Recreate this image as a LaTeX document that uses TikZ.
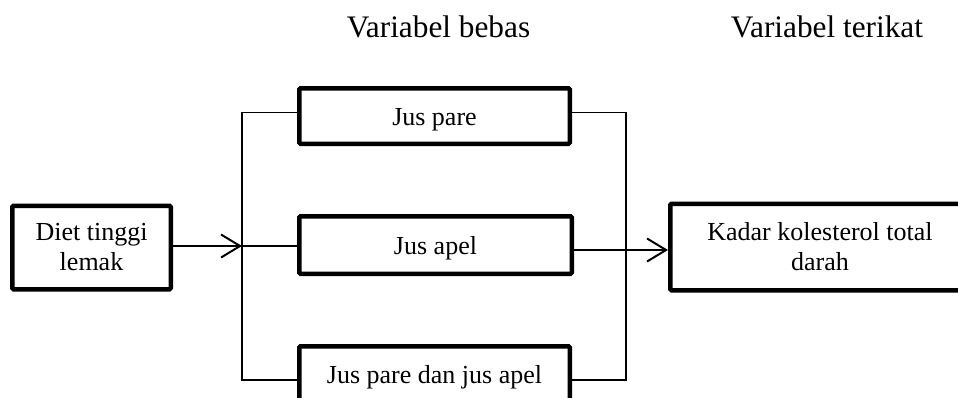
\documentclass[tikz,border=0pt]{standalone}
\usepackage{fontspec}
\setmainfont{Liberation Serif}
\usetikzlibrary{arrows.meta}

\tikzset{
  box/.style={draw, line width=4.5pt, rounded corners=1.2pt, inner sep=0pt,
    align=center, font=\fontsize{26}{30}\selectfont},
  onebox/.style={box, text height=18pt, text depth=0pt},
  title/.style={anchor=base, inner sep=0pt, font=\fontsize{31.3}{37}\selectfont},
  link/.style={line width=1.4pt},
  arr/.style={line width=2pt, -{Straight Barb[length=19pt,width=23pt]}},
}

\begin{document}
\begin{tikzpicture}[x=1pt, y=-1pt]
  \useasboundingbox (0,0) rectangle (958,397);
  \begin{scope}
    \clip (0,0) rectangle (958,397);

    % column headings
    \node[title] (hbebas)   at (438.5,37) {Variabel bebas};
    \node[title] (hterikat) at (827,37)   {Variabel terikat};

    % boxes
    \node[box, minimum width=158.5pt, minimum height=83.5pt] (diet) at (91.5,247.5)
      {Diet tinggi\\lemak};
    \node[onebox, minimum width=270.5pt, minimum height=55.5pt] (pare) at (434.5,116)
      {Jus pare};
    \node[onebox, minimum width=272.5pt, minimum height=57.5pt] (apel) at (435.5,245)
      {Jus apel};
    \node[onebox, minimum width=270.5pt, minimum height=55.5pt] (both) at (434.5,374)
      {Jus pare dan jus apel};
    \node[box, minimum width=299.5pt, minimum height=86.5pt] (kadar) at (820,247)
      {Kadar kolesterol total\\darah};

    % branching points
    \coordinate (L1) at (242,112.5);
    \coordinate (Lm) at (242,246);
    \coordinate (L3) at (242,380);
    \coordinate (R1) at (626,112.5);
    \coordinate (Rm) at (626,250);
    \coordinate (R3) at (626,380);

    % left bracket
    \draw[link] (L1 -| pare.west) -- (L1) -- (L3) -- (L3 -| both.west);
    \draw[link] (Lm) -- (Lm -| apel.west);
    \draw[arr] (diet.east |- Lm) -- (Lm);

    % right bracket
    \draw[link] (R1 -| pare.east) -- (R1) -- (R3) -- (R3 -| both.east);
    \draw[arr] (Rm -| apel.east) -- (Rm -| kadar.west);
  \end{scope}
\end{tikzpicture}
\end{document}
